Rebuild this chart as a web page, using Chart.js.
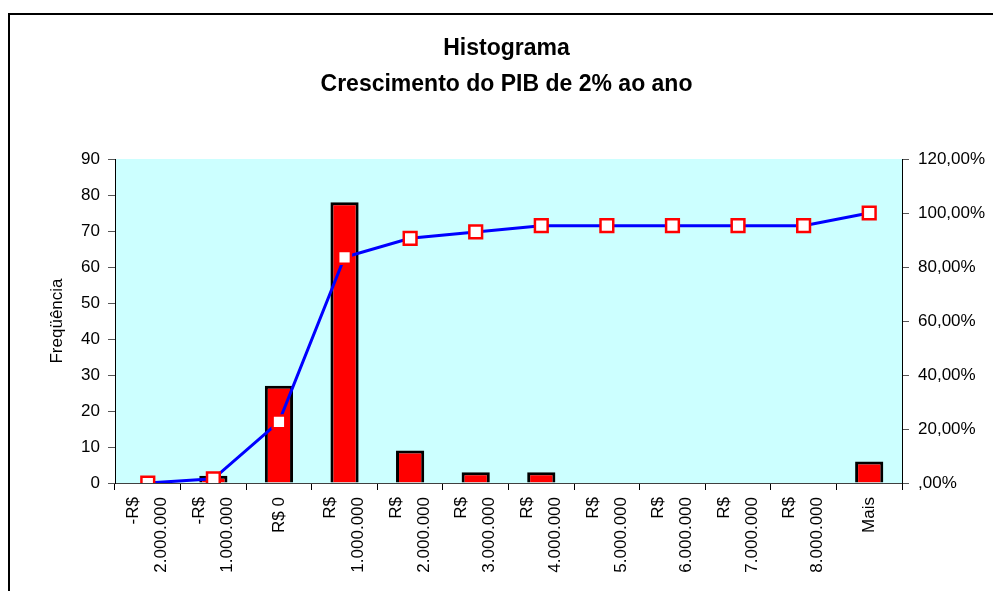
<!DOCTYPE html>
<html>
<head>
<meta charset="utf-8">
<script src="https://cdn.jsdelivr.net/npm/chart.js@4"></script>
<style>
  body { margin: 0; background: #fff; overflow: hidden; }
  #frame { position: absolute; left: 8px; top: 13px; width: 1100px; height: 700px; border: 2px solid #000; }
  #histChart { position: absolute; left: 0; top: 0; }
</style>
</head>
<body>
<div id="frame"></div>
<canvas id="histChart" width="993" height="591"></canvas>
<script>
const ctx = document.getElementById('histChart').getContext('2d');

// Bins (two-line labels, the empty first line keeps single labels centered)
const bins = [
  ['-R$', '2.000.000'], ['-R$', '1.000.000'], ['', 'R$ 0'], ['R$', '1.000.000'],
  ['R$', '2.000.000'], ['R$', '3.000.000'], ['R$', '4.000.000'], ['R$', '5.000.000'],
  ['R$', '6.000.000'], ['R$', '7.000.000'], ['R$', '8.000.000'], ['', 'Mais']
];
const frequencia = [0, 2, 27, 78, 9, 3, 3, 0, 0, 0, 0, 6];
const acumulado = [0, 1.56, 22.66, 83.59, 90.63, 92.97, 95.31, 95.31, 95.31, 95.31, 95.31, 100]; // %

const freqTicks = { min: 0, max: 90, step: 10 };
const pctTicks = { min: 0, max: 120, step: 20 };

const plotBackground = {
  id: 'plotBackground',
  beforeDraw(chart) {
    const { ctx, chartArea: a } = chart;
    ctx.save();
    ctx.fillStyle = '#CCFFFF';
    ctx.fillRect(a.left, a.top, a.right - a.left, a.bottom - a.top);
    ctx.restore();
  }
};

Chart.defaults.font.family = '"Liberation Sans", Arial, sans-serif';
Chart.defaults.color = '#000';

const histChart = new Chart(ctx, {
  type: 'bar',
  data: {
    labels: bins,
    datasets: [
      {
        type: 'line',
        label: '% cumulativo',
        data: acumulado,
        yAxisID: 'y1',
        order: 0,
        borderColor: '#0000FF',
        borderWidth: 3,
        tension: 0,
        pointStyle: 'rect',
        pointRadius: 9,
        pointBorderWidth: 2.5,
        pointBorderColor: '#FF0000',
        pointBackgroundColor: '#FFFFFF'
      },
      {
        label: 'Freqüência',
        data: frequencia,
        yAxisID: 'y',
        order: 1,
        backgroundColor: '#FF0000',
        borderColor: '#000000',
        borderWidth: 3,
        borderSkipped: 'bottom',
        categoryPercentage: 1,
        barPercentage: 0.43
      }
    ]
  },
  options: {
    responsive: false,
    animation: false,
    layout: { padding: { left: 20, right: 0, top: 0, bottom: 0 } },
    plugins: {
      legend: { display: false },
      tooltip: { enabled: false },
      title: {
        display: true,
        text: ['Histograma', 'Crescimento do PIB de 2% ao ano'],
        font: { size: 23, weight: 'bold', lineHeight: '36px' },
        color: '#000',
        padding: { top: 31, bottom: 56 }
      }
    },
    scales: {
      x: {
        offset: true,
        grid: { drawOnChartArea: false, drawTicks: true, tickLength: 7, color: '#000' },
        border: { color: '#404040', width: 1 },
        ticks: {
          minRotation: 90,
          maxRotation: 90,
          autoSkip: false,
          padding: 7,
          labelOffset: -14,
          font: (c) => {
            const lbl = bins[c.index];
            return { size: 17, lineHeight: (lbl && lbl[0] === '') ? '14px' : '28px' };
          }
        },
        afterFit: (scale) => { scale.height = 108; }
      },
      y: {
        position: 'left',
        min: freqTicks.min,
        max: freqTicks.max,
        grid: { drawOnChartArea: false, tickLength: 7, color: '#555' },
        border: { color: '#000', width: 1 },
        ticks: { stepSize: freqTicks.step, padding: 8, font: { size: 17 } },
        title: {
          display: true,
          text: 'Freqüência',
          font: { size: 17 },
          padding: { top: 27, bottom: 0 }
        },
        afterFit: (scale) => { scale.width = 95; }
      },
      y1: {
        position: 'right',
        min: pctTicks.min,
        max: pctTicks.max,
        grid: { drawOnChartArea: false, tickLength: 7, color: '#555' },
        border: { color: '#000', width: 1 },
        ticks: {
          stepSize: pctTicks.step,
          padding: 9,
          font: { size: 17 },
          callback: (v) => v === 0 ? ',00%' : v.toFixed(2).replace('.', ',') + '%'
        },
        afterFit: (scale) => { scale.width = 91; }
      }
    }
  },
  plugins: [plotBackground]
});
</script>
</body>
</html>
